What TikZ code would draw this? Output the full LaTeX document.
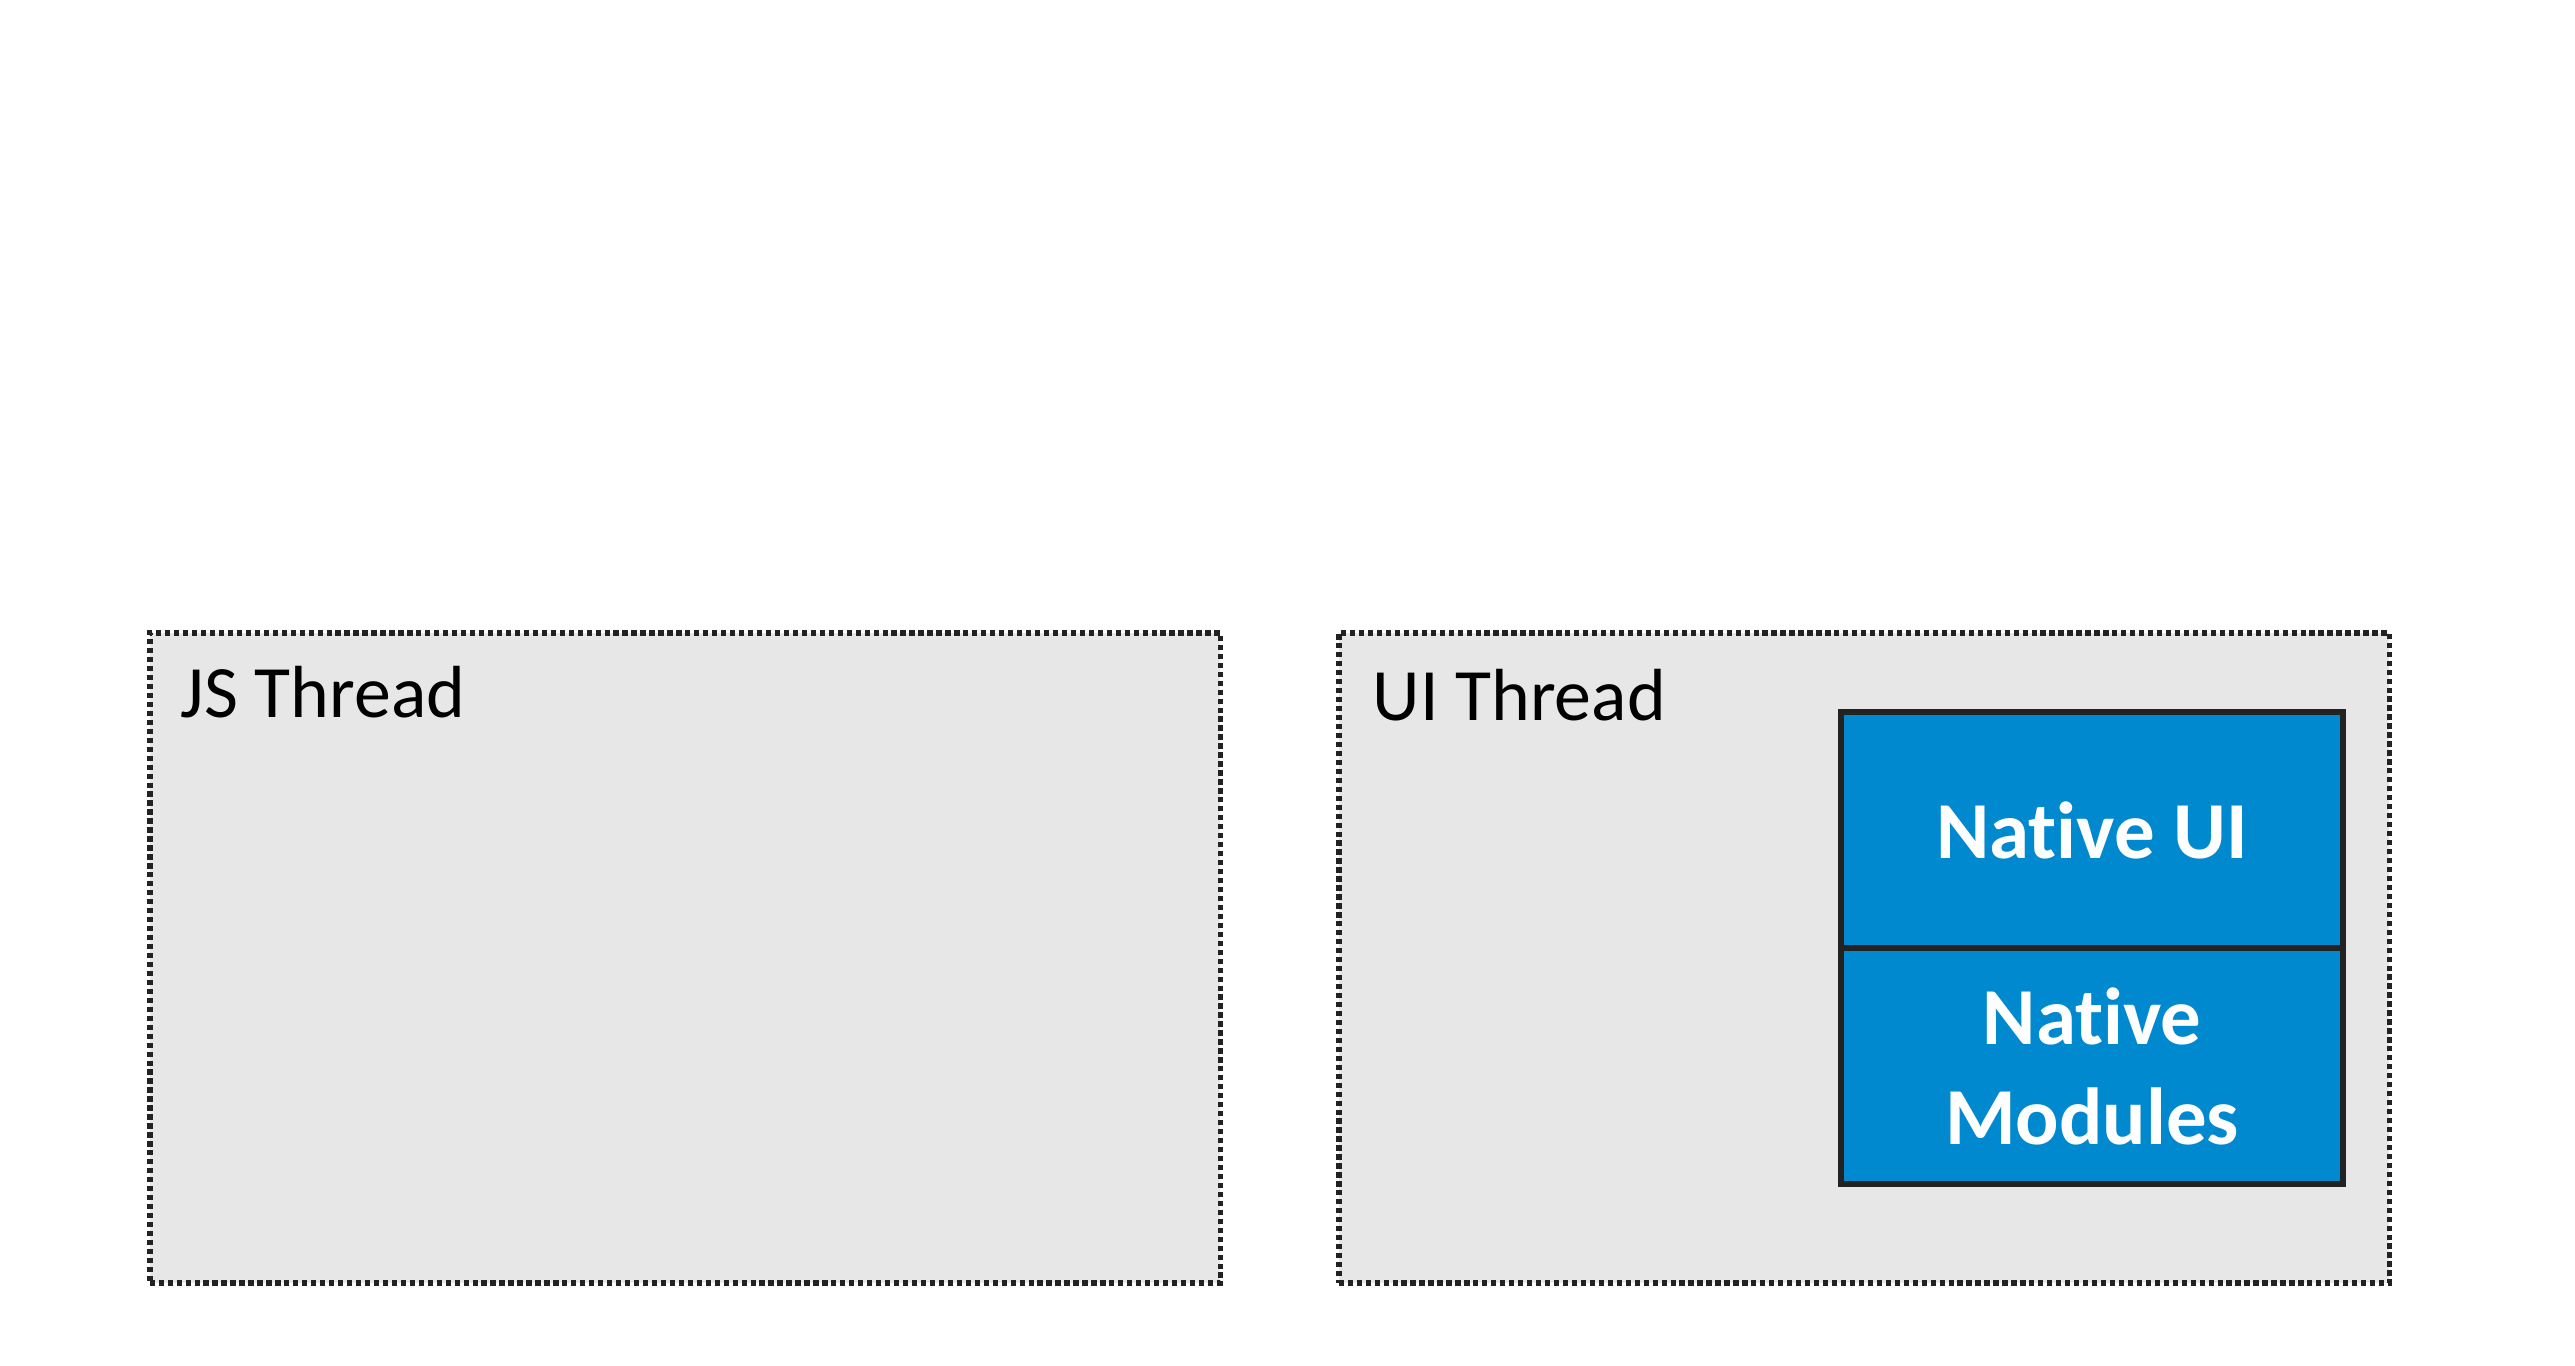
\documentclass[tikz,border=0pt]{standalone}
\usepackage{fontspec}
\setmainfont[Ligatures=NoCommon]{Carlito}
\usepackage{xcolor}
\usetikzlibrary{positioning}
\definecolor{thread_gray}{HTML}{E7E7E7}
\definecolor{native_blue}{HTML}{0089CE}
\definecolor{edge_dark}{HTML}{222222}

\begin{document}
\begin{tikzpicture}[x=0.01cm, y=-0.01cm,
  threadbox/.style={draw=edge_dark, fill=thread_gray, line width=1.6pt,
    dash pattern=on 1.5pt off 1.05pt, rectangle, inner sep=0pt},
  threadlabel/.style={anchor=base west, inner sep=0pt,
    font=\fontsize{21pt}{25pt}\selectfont},
  nativebox/.style={draw=edge_dark, fill=native_blue, line width=1.7pt,
    text=white, align=center, inner sep=0pt, outer sep=0pt, minimum width=5.02cm,
    minimum height=2.36cm, font=\fontsize{23pt}{28.45pt}\selectfont\bfseries}]
  \useasboundingbox (0,0) rectangle (2575,1365);

  % Threads
  \node[threadbox, minimum width=10.7cm, minimum height=6.5cm] (js) at (685,958) {};
  \node[threadbox, minimum width=10.5cm, minimum height=6.5cm] (ui) at (1864,958) {};
  \node[threadlabel] (jslabel) at (180,717) {JS Thread};
  \node[threadlabel] (uilabel) at (1372,720) {UI Thread};

  % Native side
  \node[nativebox] (nativeui) at (2092,830) {Native UI};
  \node[nativebox, below=0pt of nativeui] (nativemod) {Native\\Modules};
\end{tikzpicture}
\end{document}
